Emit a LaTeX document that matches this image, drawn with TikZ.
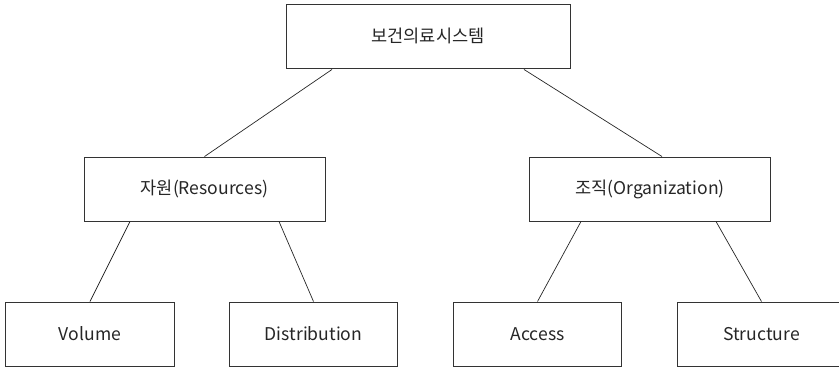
\documentclass[tikz,border=0pt]{standalone}
\usepackage{fontspec}
\setmainfont{Noto Sans CJK KR}
\usetikzlibrary{calc}
\begin{document}
\begin{tikzpicture}[x=0.03cm,y=-0.03cm,
    box/.style={draw=black!80, line width=0.8pt, rectangle, text=black!85,
      minimum width=5.05cm, minimum height=1.92cm, inner sep=0pt,
      font=\fontsize{15}{18}\selectfont},
    topbox/.style={box, minimum width=8.52cm},
    midbox/.style={box, minimum width=7.23cm},
    link/.style={draw=black!85, line width=0.6pt}]
      \useasboundingbox (0,0) rectangle (839,367);
      \clip (0,0) rectangle (839,367);
      \node[topbox] (sys) at (428,36) {보건의료시스템};
      \node[midbox] (res) at (204.5,189) {자원(Resources)};
      \node[midbox] (org) at (650,189) {조직(Organization)};
      \node[box] (vol) at (90,334) {Volume};
      \node[box] (dist) at (313.5,334) {Distribution};
      \node[box] (acc) at (537.5,334) {Access};
      \node[box] (str) at (761.5,334) {Structure};
      \draw[link] ($(sys.south)+(-96,1)$) -- (res.north);
      \draw[link] ($(sys.south)+(96,1)$) -- ($(org.north)+(12,0)$);
      \draw[link] ($(res.south)+(-74.5,0)$) -- (vol.north);
      \draw[link] ($(res.south)+(74.5,0)$) -- (dist.north);
      \draw[link] ($(org.south)+(-69,0)$) -- (acc.north);
      \draw[link] ($(org.south)+(66,0)$) -- (str.north);
\end{tikzpicture}
\end{document}
